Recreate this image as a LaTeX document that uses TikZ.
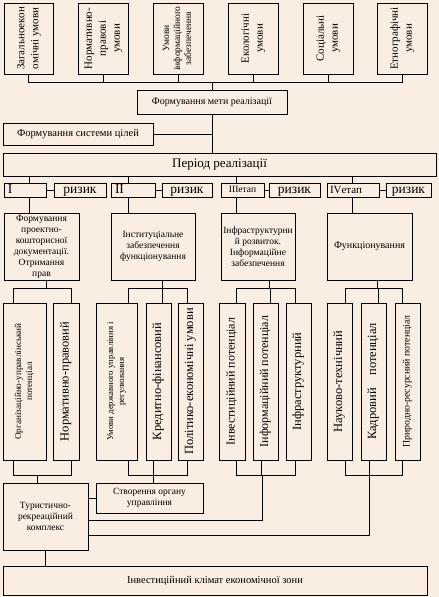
\documentclass[tikz,border=0pt]{standalone}
\usepackage{fontspec}
\usepackage{graphicx}
\setmainfont{Liberation Serif}
\definecolor{bgcol}{RGB}{250,238,227}
\newcommand\rottext[1]{\rotatebox{90}{\begin{tabular}{@{}c@{}}#1\end{tabular}}}
\newcommand\fsz[2]{\fontsize{#1}{#2}\selectfont}
\tikzset{
  box/.style={draw, line width=0.8pt, inner sep=1pt, align=center, anchor=center},
  ln/.style={line width=0.8pt},
}
\begin{document}
\begin{tikzpicture}[x=1pt,y=-1pt]
\path[use as bounding box, fill=bgcol] (0,0) rectangle (439,597);
% top condition boxes
\begin{scope}[every node/.append style={box, minimum height=71, font=\fsz{11}{14}}]
\node[minimum width=49] (t1) at (28.5,38.5) {\rottext{Загальноекон\\омічні умови}};
\node[minimum width=50] (t2) at (103,38.5) {\rottext{Нормативно-\\правові\\умови}};
\node[minimum width=50, font=\fsz{9.5}{11}] (t3) at (178,38.5) {\rottext{Умови\\інформаційного\\забезпечення}};
\node[minimum width=50] (t4) at (253,38.5) {\rottext{Екологічні\\умови}};
\node[minimum width=50] (t5) at (328,38.5) {\rottext{Соціальні\\умови}};
\node[minimum width=50] (t6) at (402,38.5) {\rottext{Етнографічні\\умови}};
\end{scope}
\coordinate (bus) at (212,82);
\draw[ln] (t1.south) |- (t6.south |- bus) -- (t6.south);
\foreach \n in {t2,t3,t4,t5} \draw[ln] (\n.south) -- (\n.south |- bus);
% goal
\node[box, minimum width=150, minimum height=24, font=\fsz{10}{11}] (goal) at (212,102) {Формування мети реалізації};
\node[box, minimum width=150, minimum height=22, font=\fsz{10.5}{11}] (sys) at (78,134) {Формування системи цілей};
\node[box, minimum width=433, minimum height=23, font=\fsz{13}{14}] (period) at (219.5,164.5) {Період реалізації};
\draw[ln] (bus) -- (goal.north);
\draw[ln] (goal.south) -- (period.north -| goal.south);
\draw[ln] (sys.east) -- (sys.east -| goal.south);
% stages
\begin{scope}[every node/.append style={box, minimum height=14, inner sep=0pt, text height=8pt, text depth=2pt, font=\fsz{13.5}{14}}]
\node[minimum width=42, text width=34, align=left] (s1) at (25,190) {I};
\node[minimum width=52] (r1) at (80,190) {ризик};
\node[minimum width=44, text width=36, align=left] (s2) at (133,190) {II};
\node[minimum width=50] (r2) at (187,190) {ризик};
\node[minimum width=43, text height=6pt, text depth=1pt, font=\fsz{9.5}{10}] (s3) at (242.5,190) {IIIетап};
\node[minimum width=51] (r3) at (294.5,190) {ризик};
\node[minimum width=52, text width=46, align=left, text height=7pt, text depth=1pt, font=\fsz{11}{11}] (s4) at (353,190) {IVетап};
\node[minimum width=45] (r4) at (408.5,190) {ризик};
\end{scope}
\foreach \s/\r in {s1/r1,s2/r2,s3/r3,s4/r4} \draw[ln] (\s.east) -- (\r.west);
% big boxes
\begin{scope}[every node/.append style={box, minimum height=67, font=\fsz{9.5}{11}}]
\node[minimum width=75] (b1) at (41.5,246.5) {Формування\\проектно-\\кошторисної\\документації.\\Отримання\\прав};
\node[minimum width=84] (b2) at (153,246.5) {Інституціальне\\забезпечення\\функціонування};
\node[minimum width=74] (b3) at (258,246.5) {Інфраструктурни\\й розвиток.\\Інформаційне\\забезпечення};
\node[minimum width=85, font=\fsz{10}{11}] (b4) at (369.5,246.5) {Функціонування};
\end{scope}
\draw[ln] (period.south -| 29,0) -- (s1.north -| 29,0);
\draw[ln] (s1.south -| 29,0) -- (b1.north -| 29,0);
\draw[ln] (period.south -| 128,0) -- (s2.north -| 128,0);
\draw[ln] (s2.south -| 128,0) -- (b2.north -| 128,0);
\draw[ln] (period.south -| 236,0) -- (s3.north -| 236,0);
\draw[ln] (s3.south -| 236,0) -- (b3.north -| 236,0);
\draw[ln] (period.south -| 352,0) -- (s4.north -| 352,0);
\draw[ln] (s4.south -| 352,0) -- (b4.north -| 352,0);
% child boxes
\begin{scope}[every node/.append style={box, minimum height=157, font=\fsz{12.5}{13}}]
\node[minimum width=43, font=\fsz{9.2}{11}] (a1) at (24.5,381.5) {\rottext{Організаційно-управлінський\\потенціал}};
\node[minimum width=26] (a2) at (66,381.5) {\rottext{Нормативно-правовий}};
\node[minimum width=41, font=\fsz{8.8}{11}] (c21) at (116.5,381.5) {\rottext{Умови державного управління і\\регулювання}};
\node[minimum width=25] (c22) at (158.5,381.5) {\rottext{Кредитно-фінансовий}};
\node[minimum width=25] (c23) at (190.5,381.5) {\rottext{Політико-економічні умови}};
\node[minimum width=26, font=\fsz{12}{13}] (c31) at (232,381.5) {\rottext{Інвестиційний потенціал}};
\node[minimum width=25, font=\fsz{12}{13}] (c32) at (265.5,381.5) {\rottext{Інформаційний потенціал}};
\node[minimum width=25] (c33) at (298.5,381.5) {\rottext{Інфраструктурний}};
\node[minimum width=25] (c41) at (339.5,381.5) {\rottext{Науково-технічний}};
\node[minimum width=25] (c42) at (373.5,381.5) {\rottext{Кадровий\quad потенціал}};
\node[minimum width=25, font=\fsz{9.8}{11}] (c43) at (407.5,381.5) {\rottext{Природно-ресурсний потенціал}};
\end{scope}
% top brackets
\coordinate (k1) at (46,288);
\coordinate (k2) at (162,288);
\coordinate (k3) at (269,288);
\coordinate (k4) at (377,288);
\draw[ln] (b1.south -| k1) -- (k1);
\draw[ln] (b2.south -| k2) -- (k2);
\draw[ln] (b3.south -| k3) -- (k3);
\draw[ln] (b4.south -| k4) -- (k4);
\draw[ln] (a1.north -| 13,0) |- (k1);
\draw[ln] (a2.north -| 71,0) |- (k1);
\draw[ln] (c21.north -| 128,0) |- (k2);
\draw[ln] (c22.north -| 162,0) |- (k2);
\draw[ln] (c23.north -| 187,0) |- (k2);
\draw[ln] (c31.north -| 236,0) |- (k3);
\draw[ln] (c32.north -| 270,0) |- (k3);
\draw[ln] (c33.north -| 295,0) |- (k3);
\draw[ln] (c41.north -| 345,0) |- (k4);
\draw[ln] (c42.north -| 378,0) |- (k4);
\draw[ln] (c43.north -| 402,0) |- (k4);
% bottom boxes
\node[box, minimum width=85, minimum height=67, font=\fsz{9.5}{11}] (tour) at (45.5,516.5) {Туристично-\\рекреаційний\\комплекс};
\node[box, minimum width=107, minimum height=30, font=\fsz{9.5}{11}] (org) at (149.5,498) {Створення органу\\управління};
\node[box, minimum width=424, minimum height=29, font=\fsz{10.5}{11}] (climate) at (215,580.5) {Інвестиційний клімат економічної зони};
% bottom brackets
\coordinate (m1) at (37,475);
\coordinate (m2) at (153,475);
\coordinate (m3) at (262,475);
\coordinate (m4) at (369,475);
\draw[ln] (a1.south -| 13,0) |- (m1);
\draw[ln] (a2.south -| 71,0) |- (m1);
\draw[ln] (c21.south -| 128,0) |- (m2);
\draw[ln] (c22.south -| 153,0) |- (m2);
\draw[ln] (c23.south -| 187,0) |- (m2);
\draw[ln] (c31.south -| 236,0) |- (m3);
\draw[ln] (c32.south -| 261,0) |- (m3);
\draw[ln] (c33.south -| 295,0) |- (m3);
\draw[ln] (c41.south -| 345,0) |- (m4);
\draw[ln] (c42.south -| 369,0) |- (m4);
\draw[ln] (c43.south -| 402,0) |- (m4);
\draw[ln] (m1) -- (tour.north -| m1);
\draw[ln] (m2) -- (org.north -| m2);
\draw[ln] (m3) |- (tour.east |- 0,520);
\draw[ln] (m4) |- (tour.east |- 0,535);
\draw[ln] (tour.east |- org.west) -- (org.west);
\draw[ln] (tour.south) -- (climate.north -| tour.south);
\end{tikzpicture}
\end{document}
